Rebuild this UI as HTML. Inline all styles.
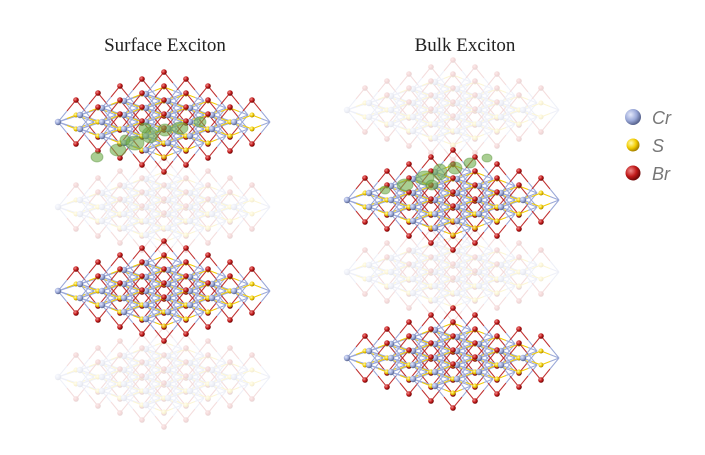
<!DOCTYPE html>
<html><head><meta charset="utf-8"><style>
body{margin:0;background:#fff;width:705px;height:455px;overflow:hidden}
svg{display:block}
</style></head><body>
<svg id="s" width="705" height="455" xmlns="http://www.w3.org/2000/svg">
<defs>
<radialGradient id="gCr" cx="35%" cy="35%" r="65%"><stop offset="0" stop-color="#e4e9fb"/><stop offset="0.6" stop-color="#9aa8d8"/><stop offset="1" stop-color="#5a6690"/></radialGradient>
<radialGradient id="gS" cx="35%" cy="35%" r="65%"><stop offset="0" stop-color="#fffbb0"/><stop offset="0.6" stop-color="#f2cc00"/><stop offset="1" stop-color="#a88400"/></radialGradient>
<radialGradient id="gBr" cx="35%" cy="35%" r="65%"><stop offset="0" stop-color="#f08a8a"/><stop offset="0.6" stop-color="#c01818"/><stop offset="1" stop-color="#700808"/></radialGradient>
</defs>
<text x="165" y="51" text-anchor="middle" font-family="Liberation Serif, serif" font-size="19" fill="#222">Surface Exciton</text>
<text x="465" y="51" text-anchor="middle" font-family="Liberation Serif, serif" font-size="19" fill="#222">Bulk Exciton</text>
<circle cx="633" cy="117" r="8" fill="url(#gCr)"/>
<circle cx="633" cy="145" r="6.5" fill="url(#gS)"/>
<circle cx="633" cy="173" r="7.5" fill="url(#gBr)"/>
<g font-family="Liberation Sans, sans-serif" font-style="italic" font-size="18" fill="#777">
<text x="652" y="124">Cr</text><text x="652" y="152">S</text><text x="652" y="180">Br</text></g>
<g id="L"></g>
</svg>
<script>
var ROOT=document.getElementById('L'),NS='http://www.w3.org/2000/svg',L=ROOT;
function el(t,a){var e=document.createElementNS(NS,t);for(var k in a)e.setAttribute(k,a[k]);L.appendChild(e);return e}
var B='#9aa8d8',R='#c03030',Y='#f2cc00';
function layer(ox,oy,op,blobs){
 var N=5,ax=22,ay=7,hw=18,hh=22;
 function P(i,j){return [ox+(i+j)*ax, oy+(i-j)*ay];}
 var lines=[],atoms=[];
 function add(p,q,c1,c2){var m=[(p[0]+q[0])/2,(p[1]+q[1])/2];lines.push([p,m,c1]);lines.push([m,q,c2]);}
 for(var i=0;i<N;i++)for(var j=0;j<N;j++){
  var c=P(i,j);
  if(i+1<N)add(c,P(i+1,j),B,B);
  if(j+1<N)add(c,P(i,j+1),B,B);
  var bt=[c[0]+hw,c[1]-hh],bb=[c[0]+hw,c[1]+hh],st=[c[0]+hw,c[1]-7],sd=[c[0]+hw,c[1]+7];
  var r=[c[0]+2*hw,c[1]];
  add(c,bt,B,R);add(c,bb,B,R);add(r,bt,B,R);add(r,bb,B,R);
  atoms.push([bt,2.8,'gBr']);atoms.push([bb,2.8,'gBr']);
  add(c,st,B,Y);add(c,sd,B,Y);add(r,st,B,Y);add(r,sd,B,Y);
  atoms.push([st,2.5,'gS']);atoms.push([sd,2.5,'gS']);
  atoms.push([c,3.2,'gCr']);
 }
 var g2=document.createElementNS(NS,'g');g2.setAttribute('opacity',op);L=g2;
 lines.forEach(function(l){el('line',{x1:l[0][0],y1:l[0][1],x2:l[1][0],y2:l[1][1],stroke:l[2],'stroke-width':1})});
 atoms.forEach(function(a){el('circle',{cx:a[0][0],cy:a[0][1],r:a[1],fill:'url(#'+a[2]+')'})});
 if(blobs)blobs.forEach(function(b){el('ellipse',{cx:b[0],cy:b[1],rx:b[2],ry:b[3],fill:'#6fae4a','fill-opacity':0.6,stroke:'#4d8a30','stroke-opacity':0.4})});
 ROOT.appendChild(g2);L=ROOT;
}
var sb=[[97,157,6,5],[118,150,8,6],[135,143,9,7],[150,135,8,8],[165,130,7,6],[180,128,8,6],[200,122,6,5],[145,128,6,5],[125,140,5,5]];
var bb=[[385,190,5,4],[405,185,8,6],[425,178,9,7],[440,172,7,8],[455,168,7,6],[470,163,6,5],[487,158,5,4],[432,185,6,5]];
layer(58,122,1,sb);
layer(58,207,0.16);
layer(58,291,1);
layer(58,377,0.16);
layer(347,110,0.16);
layer(347,200,1,bb);
layer(347,272,0.16);
layer(347,358,1);
</script>
</body></html>
